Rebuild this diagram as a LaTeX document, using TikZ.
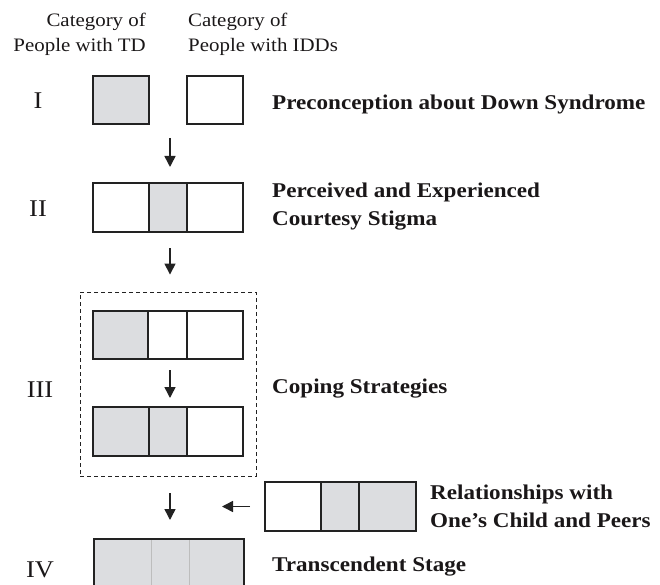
\documentclass[tikz,border=0pt]{standalone}
\usepackage{fontspec}
\setmainfont{Liberation Serif}[FakeStretch=1.1]
\usetikzlibrary{arrows.meta}
\definecolor{fillg}{HTML}{DCDDE0}
\definecolor{linec}{HTML}{222222}
\definecolor{lightc}{HTML}{BDBDBD}
\definecolor{textc}{HTML}{1A1718}
\tikzset{
  cell/.style={draw=linec, line width=1.2pt, inner sep=0pt, outer sep=0pt, minimum height=48pt},
  gcell/.style={cell, fill=fillg},
  rowframe/.style={inner sep=0pt, outer sep=0pt, minimum width=150pt, minimum height=48pt},
  arr/.style={draw=linec, line width=1.5pt, -{Triangle[length=11pt,width=11pt]}},
  head/.style={font=\fontsize{19}{25}\selectfont, text=textc, inner sep=0pt},
  numeral/.style={font=\fontsize{24}{28}\selectfont, text=textc, inner sep=0pt},
  lab/.style={font=\fontsize{21}{28}\selectfont\bfseries, text=textc, inner sep=0pt, align=left},
}
\begin{document}
\begin{tikzpicture}[x=1pt,y=-1pt]
\useasboundingbox (0,0) rectangle (660,585);
% headers (base anchor = last line)
\node[head, align=right, anchor=base east] (hTD) at (146,52) {Category of\\People with TD};
\node[head, align=left, anchor=base west] (hIDD) at (188,52) {Category of\\People with IDDs};
% numerals
\node[numeral, anchor=base] (nI) at (38,109) {I};
\node[numeral, anchor=base] (nII) at (38,216) {II};
\node[numeral, anchor=base] (nIII) at (40,397) {III};
\node[numeral, anchor=base] (nIV) at (40,577) {IV};
% row I
\node[rowframe] (r1) at (168,100) {};
\node[gcell, minimum width=56pt] (c1a) at (121,100) {};
\node[cell, minimum width=56pt] (c1b) at (215,100) {};
% row II
\node[rowframe, minimum height=49pt] (r2) at (168,207.5) {};
\node[cell, minimum width=56pt, minimum height=49pt] (c2a) at (121,207.5) {};
\node[gcell, minimum width=38pt, minimum height=49pt] (c2b) at (168,207.5) {};
\node[cell, minimum width=56pt, minimum height=49pt] (c2c) at (215,207.5) {};
% dashed box
\node[draw=linec, line width=0.9pt, dashed, dash pattern=on 4pt off 3pt, minimum width=176pt, minimum height=184pt, inner sep=0pt] (dbox) at (168,384) {};
% row IIIa
\node[rowframe] (r3a) at (168,335) {};
\node[gcell, minimum width=55pt] (c3a) at (120.5,335) {};
\node[cell, minimum width=39pt] (c3b) at (167.5,335) {};
\node[cell, minimum width=56pt] (c3c) at (215,335) {};
% row IIIb
\node[rowframe, minimum height=49pt] (r3b) at (168,431.5) {};
\node[gcell, minimum width=56pt, minimum height=49pt] (c3d) at (121,431.5) {};
\node[gcell, minimum width=38pt, minimum height=49pt] (c3e) at (168,431.5) {};
\node[cell, minimum width=56pt, minimum height=49pt] (c3f) at (215,431.5) {};
% relationships row
\node[rowframe, minimum width=151pt, minimum height=49pt] (rr) at (340.5,506.5) {};
\node[cell, minimum width=56pt, minimum height=49pt] (cra) at (293,506.5) {};
\node[gcell, minimum width=38pt, minimum height=49pt] (crb) at (340,506.5) {};
\node[gcell, minimum width=57pt, minimum height=49pt] (crc) at (387.5,506.5) {};
\coordinate (relend) at (222,506.5);
% row IV
\node[cell, draw=lightc, line width=0.8pt, fill=fillg, minimum width=57pt, minimum height=49pt] (c4a) at (122.5,563.5) {};
\node[cell, draw=lightc, line width=0.8pt, fill=fillg, minimum width=38pt, minimum height=49pt] (c4b) at (170,563.5) {};
\node[cell, draw=lightc, line width=0.8pt, fill=fillg, minimum width=55pt, minimum height=49pt] (c4c) at (216.5,563.5) {};
\node[cell, minimum width=150pt, minimum height=49pt] (r4) at (169,563.5) {};
% arrows
\draw[arr, shorten <=14pt, shorten >=16pt] ([xshift=2pt]r1.south) -- ([xshift=2pt]r2.north);
\draw[arr, shorten <=16pt, shorten >=17pt] ([xshift=2pt]r2.south) -- ([xshift=2pt]dbox.north);
\draw[arr, shorten <=11pt, shorten >=9pt] ([xshift=2pt]r3a.south) -- ([xshift=2pt]r3b.north);
\draw[arr, shorten <=17pt, shorten >=19pt] ([xshift=2pt]dbox.south) -- ([xshift=1pt]r4.north);
\draw[arr, shorten <=15pt] (rr.west) -- (relend);
% labels
\node[lab, anchor=base west] (tI) at (272,110) {Preconception about Down Syndrome};
\node[lab, anchor=base west] (tII) at (272,225) {Perceived and Experienced\\Courtesy Stigma};
\node[lab, anchor=base west] (tIII) at (272,393) {Coping Strategies};
\node[lab, anchor=base west] (tR) at (430,527) {Relationships with\\One’s Child and Peers};
\node[lab, anchor=base west] (tIV) at (272,571) {Transcendent Stage};
\end{tikzpicture}
\end{document}
